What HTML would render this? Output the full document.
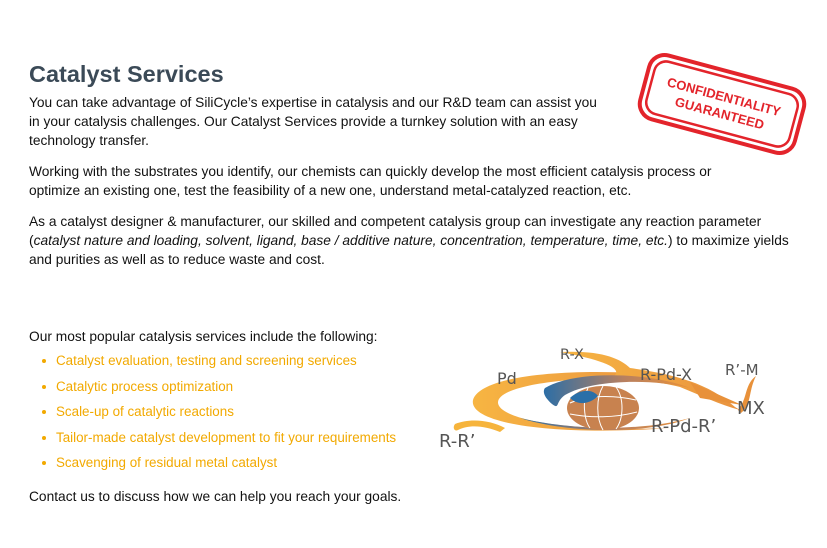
<!DOCTYPE html>
<html><head><meta charset="utf-8"><style>
body{margin:0;width:827px;height:548px;background:#fff;position:relative;overflow:hidden;font-family:"Liberation Sans",Arial,sans-serif;}
.t{position:absolute;left:29px;font-size:13.75px;color:#111;white-space:nowrap;line-height:16px}
h1{position:absolute;left:29px;top:61px;margin:0;font-size:23.5px;font-weight:bold;color:#3b4a57;}
.b{position:absolute;left:42px;font-size:13.4px;color:#f2a900;white-space:nowrap;line-height:16px}
.b::before{content:"";position:absolute;left:0;top:6px;width:4px;height:4px;border-radius:50%;background:#f2a900}
.b span{margin-left:14px}
</style></head><body>
<h1>Catalyst Services</h1>
<div class="t" style="top:95px">You can take advantage of SiliCycle’s expertise in catalysis and our R&amp;D team can assist you</div>
<div class="t" style="top:114px">in your catalysis challenges. Our Catalyst Services provide a turnkey solution with an easy</div>
<div class="t" style="top:133px">technology transfer.</div>
<div class="t" style="top:164px">Working with the substrates you identify, our chemists can quickly develop the most efficient catalysis process or</div>
<div class="t" style="top:183px">optimize an existing one, test the feasibility of a new one, understand metal-catalyzed reaction, etc.</div>
<div class="t" style="top:214px">As a catalyst designer &amp; manufacturer, our skilled and competent catalysis group can investigate any reaction parameter</div>
<div class="t" style="top:233px">(<i>catalyst nature and loading, solvent, ligand, base / additive nature, concentration, temperature, time, etc.</i>) to maximize yields</div>
<div class="t" style="top:252px">and purities as well as to reduce waste and cost.</div>
<div class="t" style="top:329px">Our most popular catalysis services include the following:</div>
<div class="b" style="top:353px"><span>Catalyst evaluation, testing and screening services</span></div>
<div class="b" style="top:379px"><span>Catalytic process optimization</span></div>
<div class="b" style="top:404px"><span>Scale-up of catalytic reactions</span></div>
<div class="b" style="top:430px"><span>Tailor-made catalyst development to fit your requirements</span></div>
<div class="b" style="top:455px"><span>Scavenging of residual metal catalyst</span></div>
<div class="t" style="top:489px">Contact us to discuss how we can help you reach your goals.</div>

<svg style="position:absolute;left:0;top:0" width="827" height="548">
<g transform="translate(722,104) rotate(15)">
<rect x="-80" y="-33" width="160" height="66" rx="16" fill="none" stroke="#e3242b" stroke-width="4"/>
<rect x="-74" y="-27" width="148" height="54" rx="12" fill="none" stroke="#e3242b" stroke-width="2.5"/>
<text x="0" y="-3" text-anchor="middle" font-family="Liberation Sans" font-weight="bold" font-size="13" fill="#e3242b">CONFIDENTIALITY</text>
<text x="0" y="14" text-anchor="middle" font-family="Liberation Sans" font-weight="bold" font-size="13" fill="#e3242b">GUARANTEED</text>
</g>
<defs>
<linearGradient id="g" x1="0" x2="1"><stop offset="0" stop-color="#f7b542"/><stop offset="1" stop-color="#e99340"/></linearGradient>
<linearGradient id="gb" x1="0" x2="1"><stop offset="0" stop-color="#2c6ea6"/><stop offset="0.55" stop-color="#b88060"/><stop offset="1" stop-color="#e8913a"/></linearGradient>
</defs>
<!-- big left crescent -->
<path d="M650,374 C570,368 480,375 473,400 C468,425 560,436 670,428 C570,432 500,420 498,403 C497,385 570,376 650,378Z" fill="url(#g)"/>
<!-- R-R' tail -->
<path d="M505,428 C490,420 470,418 455,424 C452,428 455,432 458,430 C470,424 485,426 500,432Z" fill="#f6b43c"/>
<!-- top band R-X to arrow -->
<path d="M560,352 C600,350 620,358 630,368 C680,375 710,385 735,407 L740,410 C720,405 700,395 680,387 C660,382 640,380 610,378 C625,372 615,362 560,352Z" fill="url(#g)"/>
<path d="M690,382 L742,405 L700,398Z" fill="#e8913a"/>
<path d="M738,410 C748,398 744,385 756,376 C748,392 752,404 741,413Z" fill="#e8913a"/>
<!-- inner swirl -->
<path d="M545,388 C575,370 650,372 690,388 C650,378 590,380 565,395 C555,402 560,410 552,404 C545,398 542,392 545,388Z" fill="url(#gb)"/>
<path d="M520,418 C570,430 640,432 690,418 C650,434 570,434 520,418Z" fill="url(#gb)"/>
<!-- globe -->
<ellipse cx="603" cy="408" rx="36" ry="22" fill="#c8824f"/>
<path d="M570,403 C585,396 610,394 636,400 M570,414 C590,418 615,418 637,412 M603,386 C596,398 596,418 603,430 M616,387 C624,398 624,418 616,429 M588,388 C582,400 584,420 590,428" stroke="#fff" stroke-width="1" fill="none"/>
<path d="M570,398 C578,390 592,388 598,396 C590,404 578,406 570,398Z" fill="#2a6fa8"/>
<g font-family="DejaVu Sans,Liberation Sans" fill="#555" font-size="16">
<text x="560" y="359" font-size="14.5">R-X</text>
<text x="497" y="384" font-size="16">Pd</text>
<text x="640" y="380" font-size="16">R-Pd-X</text>
<text x="725" y="375" font-size="15">R’-M</text>
<text x="737" y="414" font-size="18">MX</text>
<text x="651" y="432" font-size="18">R-Pd-R’</text>
<text x="439" y="447" font-size="18">R-R’</text>
</g>
</svg>
</body></html>
